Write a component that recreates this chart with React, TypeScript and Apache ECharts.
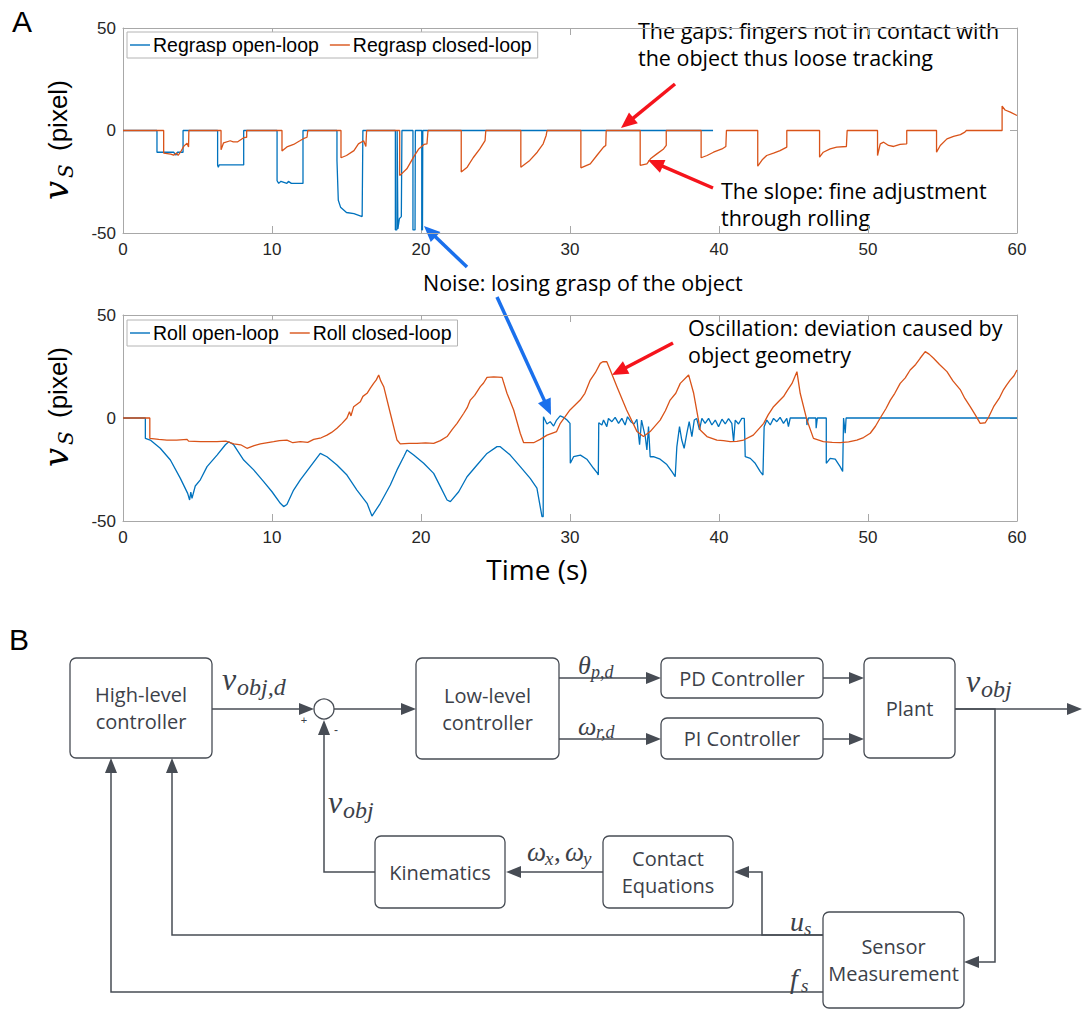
import React, { useEffect, useRef } from 'react';
import * as echarts from 'echarts';

// ---------- data ----------
const timeTicks = [0, 10, 20, 30, 40, 50, 60];
const valueTicks = [-50, 0, 50];
const seriesNames = ['Regrasp open-loop', 'Regrasp closed-loop', 'Roll open-loop', 'Roll closed-loop'];

// [time (s), v_S (pixel)]
const regraspOpen: number[][] = [
  [0, 0], [2.28, 0], [2.28, -10.6], [3.4, -10.6], [3.55, -12], [3.65, -10.6], [4.03, -10.6], [4.03, 0],
  [6.35, 0], [6.35, -17], [6.4, -18], [6.45, -16.8], [8.1, -16.8], [8.1, 0],
  [10.34, 0], [10.34, -24.5], [10.45, -25.8], [10.6, -24.8], [11.0, -25.8], [11.1, -24.8], [11.3, -25.8], [12.08, -25.8], [12.08, 0],
  [14.36, 0], [14.36, -14.6], [14.45, -34], [14.6, -37.4], [15.0, -40], [15.5, -40.6], [16.05, -42], [16.1, 0],
  [18.28, 0], [18.28, -48.5], [18.38, -48.5], [18.4, 0], [18.45, -48], [18.55, -43], [18.68, -42], [18.72, 0],
  [19.46, 0], [19.46, -48.5], [19.6, -48.5], [19.62, 0],
  [20.05, 0], [20.05, -48.5], [20.1, -48.5], [20.12, 0],
  [39.6, 0],
];

const regraspClosed: number[][] = [
  [0, 0], [2.73, 0], [2.73, -11], [3.2, -11.5], [3.4, -12], [3.6, -11], [3.7, -12.2], [3.9, -10], [4.1, -7.5], [4.3, -6.2], [4.4, -8], [4.42, 0],
  [6.58, 0], [6.58, -9.4], [6.75, -6], [7.2, -5], [7.4, -5.5], [7.7, -5.5], [8.0, -4], [8.1, -3.5], [8.3, -3.3], [8.3, 0],
  [10.67, 0], [10.67, -10], [11.0, -8], [11.45, -6.8], [11.9, -4.9], [12.1, -4], [12.35, -3.3], [12.4, 0],
  [14.63, 0], [14.63, -13.3], [15.0, -12.2], [15.5, -9.8], [15.8, -6.5], [16.15, -5], [16.3, -7.8], [16.35, 0],
  [18.57, 0], [18.57, -22], [19.05, -18.7], [19.5, -13], [19.85, -9], [20.2, -6.8], [20.4, -6.5], [20.47, 0],
  [22.7, 0], [22.7, -20.3], [23.1, -17.9], [23.5, -13.3], [23.95, -9], [24.3, -4.9], [24.35, 0],
  [26.7, 0], [26.7, -17.9], [27.3, -14.6], [27.8, -10.6], [28.2, -6.5], [28.4, -2.4], [28.46, 0],
  [30.73, 0], [30.73, -18.2], [31.36, -16.3], [31.8, -12.2], [32.25, -8.1], [32.4, -7.3], [32.43, 0],
  [34.71, 0], [34.71, -17], [35.16, -16.3], [35.4, -13.8], [35.83, -11.4], [36.28, -9], [36.46, -7.3], [36.46, 0],
  [38.8, 0], [38.8, -13.3], [39.2, -12.2], [39.63, -10.6], [40.2, -9], [40.46, -7.8], [40.5, 0],
  [42.6, 0], [42.6, -17.4], [42.9, -14.3], [43.2, -12.2], [43.66, -11], [44.1, -9.8], [44.55, -8.1], [44.55, 0],
  [46.75, 0], [46.75, -13], [47.0, -10.6], [47.46, -9], [47.9, -8.1], [48.55, -7.8], [48.6, 0],
  [50.64, 0], [50.64, -12.2], [50.82, -6.5], [51.05, -5.7], [51.38, -7.3], [51.72, -7.8], [52.15, -6.8], [52.6, -6.5], [52.6, 0],
  [54.6, 0], [54.6, -10.6], [54.85, -7.3], [55.3, -4.1], [55.74, -2.9], [56.2, -2], [56.5, -0.8], [56.6, 0],
  [59.0, 0], [59.0, 11.9], [59.2, 10], [59.55, 9], [60, 7.3],
];

const rollOpen: number[][] = [
  [0, 0], [1.5, 0], [1.5, -9.9], [1.83, -10.7], [2.5, -14.7], [3.18, -20.4], [3.85, -29.3], [4.34, -36.6], [4.47, -39.8], [4.55, -36], [4.63, -39], [4.85, -33],
  [5.19, -30], [5.64, -23.6], [6.31, -18], [6.87, -13], [7.1, -11.5],
  [7.43, -13], [8.1, -20.4], [8.77, -25.2], [9.44, -30.9], [10.0, -35.8], [10.56, -41.4], [10.78, -43], [11.0, -42], [11.45, -35], [11.9, -30],
  [12.57, -23.6], [13.24, -17.2],
  [13.69, -18.8], [14.36, -22.8], [15.03, -27.7], [15.7, -35], [16.38, -41.4], [16.71, -47.6], [17.27, -41.4], [17.94, -32.5], [18.39, -25.2],
  [18.84, -18.8], [19.06, -15.5],
  [19.51, -18], [20.18, -22], [20.85, -26.9], [21.3, -33.3], [21.75, -39.8], [21.97, -40.6], [22.53, -35.8], [23.09, -28.5], [23.76, -22.8],
  [24.43, -17.2], [25.1, -13.9], [25.32, -13.9], [25.99, -18], [26.66, -23.6], [27.33, -29.3], [27.78, -34], [28.0, -43], [28.12, -47.9], [28.2, -47.9],
  [28.22, 0.6], [28.45, -2.9], [28.67, -1.8], [28.9, -3.9], [29.1, -1], [29.34, 1], [29.57, 0.3], [29.8, -1], [30.0, -2.6],
  [30.02, -22], [30.24, -18.8], [30.7, -18], [31.13, -20], [31.58, -24.4], [31.85, -26.9], [31.9, -27.7],
  [31.93, -2.3], [32.14, -3.4], [32.25, -1], [32.47, -4.2], [32.58, -0.2], [32.81, -1.8], [33.03, 0.3], [33.26, -2.6], [33.48, -0.2],
  [33.7, -3.4], [33.86, 0.6], [34.08, -1.8], [34.3, -2.9], [34.49, -0.6],
  [34.67, -13], [34.8, -1], [35.05, -9], [35.16, -15.5], [35.27, -4.2], [35.38, -18.8], [35.6, -18.8], [36.05, -20], [36.5, -22.6], [36.84, -26],
  [37.06, -28.5], [37.17, -14], [37.35, -4.2], [37.5, -10.7], [37.66, -14.7], [37.84, -7.5], [38.0, -1.8], [38.18, -9], [38.34, -1], [38.5, -0.2],
  [38.69, -5.8], [38.85, -0.2], [39.07, -2.6], [39.3, -0.2], [39.52, -3.4], [39.75, -1], [39.97, -4.2], [40.2, -0.6], [40.42, -2.9], [40.64, -0.3],
  [40.86, -2.6], [40.98, -11.5], [41.09, -1], [41.31, -2.9], [41.53, -0.2], [41.7, -0.2],
  [41.76, -18.8], [42.1, -19.6], [42.43, -22], [42.77, -26], [42.95, -27.7], [43.03, -4.2], [43.21, -1], [43.44, -3.4], [43.66, -0.2], [43.88, -1.8],
  [44.1, 0.3], [44.33, -2.6], [44.55, -0.2], [44.66, -4.2], [44.78, 0],
  [45.88, 0], [45.9, -3.4], [46.0, 0], [46.5, 0], [46.52, -5], [46.6, 0],
  [47.2, 0], [47.2, -22], [47.46, -19.6], [47.8, -20], [48.13, -23.6], [48.3, -26], [48.36, 0], [48.47, -7.4], [48.53, 0],
  [60, 0],
];

const rollClosed: number[][] = [
  [0, 0], [1.8, 0], [1.8, -9.9], [2.4, -10.4], [2.95, -10.7], [3.6, -10.7], [4.3, -10.4], [4.4, -11.2], [5.2, -11.5], [6.31, -11.5],
  [6.9, -11.2], [7.43, -12.6], [7.9, -13], [8.32, -14.7], [8.8, -13.4], [9.22, -12.6], [10.11, -11.5], [10.5, -11], [11.0, -10.7],
  [11.4, -12], [11.9, -11.5], [12.4, -11.8], [12.8, -10.4], [13.3, -9.6], [13.69, -8.3], [14.0, -7], [14.36, -5], [14.7, -2.6],
  [15.03, 0], [15.2, 3], [15.3, 1], [15.48, 5.5], [15.93, 7.9], [16.1, 10.5], [16.38, 12], [16.6, 14.5], [16.82, 16.8], [17.0, 18.5],
  [17.16, 20.9], [17.3, 18], [17.5, 15.2], [17.94, 2.3], [18.39, -10.7], [18.61, -12.6], [19.2, -12.3], [19.73, -12.3], [20.3, -12.1],
  [20.85, -12.3], [21.3, -11], [21.75, -9], [22.1, -5.5], [22.42, -2.6], [22.87, 2.3], [23.1, 5], [23.31, 8.7], [23.6, 11], [23.98, 15.2],
  [24.2, 17], [24.43, 19.7], [24.88, 20], [25.44, 19.7], [25.77, 12], [26.22, 3.9], [26.66, -7.4], [26.89, -12], [27.56, -12],
  [28.0, -10.4], [28.46, -8.3], [29.1, -6.6], [29.35, -2.6], [30.0, 3.9], [30.68, 8.7], [31.0, 12], [31.36, 18.4], [31.7, 22],
  [32.03, 26.5], [32.2, 27.3], [32.47, 27.3], [32.7, 23.3], [33.15, 15.2], [33.8, 3.9], [34.5, -6.6], [34.93, -9], [35.38, -6.6],
  [36.05, -1], [36.4, 3.5], [36.72, 8.7], [37.1, 12], [37.4, 16.8], [37.96, 20.9], [38.3, 12], [38.74, -5.8], [39.19, -9],
  [39.86, -10.7], [40.3, -11], [40.75, -11.5], [41.2, -11.3], [41.65, -10.7], [42.3, -8.3], [43.0, -2.6], [43.3, 1.5], [43.66, 5.5],
  [44.0, 8], [44.33, 10.4], [44.6, 13.5], [44.9, 16.8], [45.23, 22.5], [45.45, 12], [45.9, -1], [46.34, -9.9], [47.0, -11.5],
  [47.6, -11.8], [48.13, -12], [48.7, -11.6], [49.25, -10.7], [49.7, -9.5], [50.15, -7.4], [50.5, -4], [50.82, 0], [51.2, 4.5],
  [51.5, 8.7], [51.8, 12], [52.16, 16.8], [52.5, 19.5], [52.83, 23.3], [53.2, 26], [53.5, 29], [53.84, 32.2], [54.1, 31], [54.4, 29],
  [54.8, 26], [55.3, 22.5], [55.7, 18], [56.19, 13.8], [56.5, 9.5], [56.86, 5.5], [57.2, 1.5], [57.53, -2.6], [57.87, -2.3],
  [58.1, 0.5], [58.43, 5.5], [58.8, 9.5], [59.1, 13.8], [59.3, 16], [59.54, 18.4], [59.8, 20.5], [60, 23.3],
];

// ---------- styling ----------
const BLUE = '#0072BD';
const ORANGE = '#D95319';
const AXIS = '#a8a8a8';
const TICKTXT = '#262626';
const DIAG = '#474c54';
const DIAGTXT = '#3c4149';
const HUMAN = '"Open Sans", "Noto Sans", sans-serif';
const HELV = '"Liberation Sans", Arial, sans-serif';
const MATH = '"Liberation Serif", "Times New Roman", serif';

function xAxes(gridIndex: number) {
  const base: any = {
    type: 'value', gridIndex, min: timeTicks[0], max: timeTicks[timeTicks.length - 1], interval: timeTicks[1] - timeTicks[0],
    axisLine: { show: true, onZero: false, lineStyle: { color: AXIS, width: 1 } },
    axisTick: { show: true, inside: true, length: 7, lineStyle: { color: AXIS } },
    splitLine: { show: false },
  };
  return [
    { ...base, position: 'bottom', axisLabel: { show: true, color: TICKTXT, fontSize: 17, fontFamily: HELV, margin: 8 } },
    { ...base, position: 'top', axisLabel: { show: false } },
  ];
}
function yAxes(gridIndex: number) {
  const base: any = {
    type: 'value', gridIndex, min: valueTicks[0], max: valueTicks[valueTicks.length - 1], interval: valueTicks[1] - valueTicks[0],
    axisLine: { show: true, onZero: false, lineStyle: { color: AXIS, width: 1 } },
    axisTick: { show: true, inside: true, length: 7, lineStyle: { color: AXIS } },
    splitLine: { show: false },
  };
  return [
    { ...base, position: 'left', axisLabel: { show: true, color: TICKTXT, fontSize: 17, fontFamily: HELV, margin: 7 } },
    { ...base, position: 'right', axisLabel: { show: false } },
  ];
}

function arrow(x1: number, y1: number, x2: number, y2: number, color: string, lw: number, hl: number, hw: number): any[] {
  const dx = x2 - x1, dy = y2 - y1;
  const L = Math.sqrt(dx * dx + dy * dy);
  const ux = dx / L, uy = dy / L;
  const bx = x2 - ux * hl, by = y2 - uy * hl;
  const nx = -uy, ny = ux;
  return [
    { type: 'line', shape: { x1, y1, x2: bx + ux * 1, y2: by + uy * 1 }, style: { stroke: color, lineWidth: lw }, silent: true },
    { type: 'polygon', shape: { points: [[x2, y2], [bx + nx * hw, by + ny * hw], [bx - nx * hw, by - ny * hw]] }, style: { fill: color }, silent: true },
  ];
}

function polyArrow(points: number[][], color: string): any[] {
  const n = points.length;
  const [x1, y1] = points[n - 2];
  const [x2, y2] = points[n - 1];
  const dx = x2 - x1, dy = y2 - y1;
  const L = Math.sqrt(dx * dx + dy * dy);
  const ux = dx / L, uy = dy / L;
  const hl = 15, hw = 6;
  const bx = x2 - ux * hl, by = y2 - uy * hl;
  const pts = points.slice(0, n - 1).concat([[bx, by]]);
  return [
    { type: 'polyline', shape: { points: pts }, style: { stroke: color, lineWidth: 1.5, fill: null }, silent: true },
    { type: 'polygon', shape: { points: [[x2, y2], [bx - uy * hw, by + ux * hw], [bx + uy * hw, by - ux * hw]] }, style: { fill: color }, silent: true },
  ];
}

function txt(x: number, y: number, text: string, opts: any = {}): any {
  const align = opts.align || 'left';
  const va = opts.verticalAlign || 'middle';
  return {
    type: 'text', x, y, rotation: opts.rotation || 0, silent: true,
    style: {
      text, fill: opts.fill || '#000', fontSize: opts.fontSize || 20, fontFamily: opts.fontFamily || HUMAN,
      fontStyle: opts.fontStyle || 'normal', align, textAlign: align, verticalAlign: va, textVerticalAlign: va,
      lineHeight: opts.lineHeight,
    },
  };
}

function box(x: number, y: number, w: number, h: number, label: string): any[] {
  return [
    { type: 'rect', shape: { x, y, width: w, height: h, r: 6 }, style: { fill: '#fff', stroke: DIAG, lineWidth: 1.3 }, silent: true },
    txt(x + w / 2, y + h / 2, label, { align: 'center', fontSize: 20, fill: DIAGTXT, lineHeight: 27 }),
  ];
}

function math(x: number, yMid: number, main: string, sub: string, mainSize: number, subSize: number, mainW: number, subDy: number): any[] {
  return [
    txt(x, yMid, main, { fontFamily: MATH, fontStyle: 'italic', fontSize: mainSize, fill: DIAGTXT }),
    txt(x + mainW, yMid + subDy, sub, { fontFamily: MATH, fontStyle: 'italic', fontSize: subSize, fill: DIAGTXT }),
  ];
}

function yLabel(yStart: number): any[] {
  const R = Math.PI / 2;
  return [
    txt(56, yStart, 'v', { rotation: R, fontFamily: '"DejaVu Serif", serif', fontStyle: 'italic', fontSize: 34 }),
    txt(66, yStart - 22, 'S', { rotation: R, fontFamily: '"DejaVu Serif", serif', fontStyle: 'italic', fontSize: 20 }),
    txt(58, yStart - 49, '(pixel)', { rotation: R, fontFamily: HELV, fontSize: 26 }),
  ];
}

function buildOption(): any {
  const graphic: any[] = [];
  // panel letters
  graphic.push(txt(22, 21, 'A', { align: 'center', fontFamily: HELV, fontSize: 30 }));
  graphic.push(txt(19, 639, 'B', { align: 'center', fontFamily: HELV, fontSize: 30 }));
  // axis titles
  graphic.push(...yLabel(200), ...yLabel(467));
  graphic.push(txt(537, 569, 'Time (s)', { align: 'center', fontSize: 28 }));

  // annotations
  const RED = '#f5141c';
  const ABLUE = '#1a70ec';
  graphic.push(txt(638, 44, 'The gaps: fingers not in contact with\nthe object thus loose tracking', { fontSize: 21.5, lineHeight: 27 }));
  graphic.push(...arrow(675, 84, 621, 128, RED, 3.5, 16, 7));
  graphic.push(txt(721, 204, 'The slope: fine adjustment\nthrough rolling', { fontSize: 21.5, lineHeight: 27 }));
  graphic.push(...arrow(713, 188, 648, 160, RED, 3.5, 16, 7));
  graphic.push(txt(423, 282, 'Noise: losing grasp of the object', { fontSize: 21.5 }));
  graphic.push(...arrow(467, 267, 424, 226, ABLUE, 3.5, 16, 7));
  graphic.push(...arrow(497, 297, 551, 415, ABLUE, 3.5, 16, 7));
  graphic.push(txt(688, 341, 'Oscillation: deviation caused by\nobject geometry', { fontSize: 21.5, lineHeight: 27 }));
  graphic.push(...arrow(673, 343, 612, 375, RED, 3.5, 16, 7));

  // ---- block diagram ----
  graphic.push(...polyArrow([[212, 709], [314, 709]], DIAG));
  graphic.push(...polyArrow([[334, 709], [416, 709]], DIAG));
  graphic.push(...polyArrow([[559, 678], [661, 678]], DIAG));
  graphic.push(...polyArrow([[559, 739], [661, 739]], DIAG));
  graphic.push(...polyArrow([[823, 678], [864, 678]], DIAG));
  graphic.push(...polyArrow([[823, 739], [864, 739]], DIAG));
  graphic.push(...polyArrow([[955, 709], [1082, 709]], DIAG));
  graphic.push(...polyArrow([[955, 709], [995, 709], [995, 962], [964, 962]], DIAG));
  graphic.push(...polyArrow([[823, 935], [762, 935], [762, 872], [734, 872]], DIAG));
  graphic.push(...polyArrow([[603, 872], [506, 872]], DIAG));
  graphic.push(...polyArrow([[375, 872], [324, 872], [324, 720]], DIAG));
  graphic.push(...polyArrow([[823, 935], [172, 935], [172, 758]], DIAG));
  graphic.push(...polyArrow([[823, 992], [111, 992], [111, 758]], DIAG));
  graphic.push({ type: 'circle', shape: { cx: 324, cy: 709, r: 10 }, style: { fill: '#fff', stroke: DIAG, lineWidth: 1.3 }, silent: true });
  graphic.push(txt(304, 720, '+', { align: 'center', fontSize: 11, fontFamily: HELV, fill: DIAGTXT }));
  graphic.push(txt(336, 730, '-', { align: 'center', fontSize: 12, fontFamily: HELV, fill: DIAGTXT }));
  graphic.push(...box(70, 658, 142, 100, 'High-level\ncontroller'));
  graphic.push(...box(416, 658, 143, 101, 'Low-level\ncontroller'));
  graphic.push(...box(661, 658, 162, 40, 'PD Controller'));
  graphic.push(...box(661, 718, 162, 41, 'PI Controller'));
  graphic.push(...box(864, 658, 91, 100, 'Plant'));
  graphic.push(...box(375, 836, 130, 72, 'Kinematics'));
  graphic.push(...box(603, 836, 130, 72, 'Contact\nEquations'));
  graphic.push(...box(823, 912, 141, 96, 'Sensor\nMeasurement'));
  graphic.push(...math(222, 679, 'v', 'obj,d', 32, 24, 15, 8));
  graphic.push(...math(578, 665, 'θ', 'p,d', 26, 18, 13, 7));
  graphic.push(...math(578, 726, 'ω', 'r,d', 26, 18, 18, 6));
  graphic.push(...math(966, 681, 'v', 'obj', 32, 24, 15, 8));
  graphic.push(...math(328, 802, 'v', 'obj', 32, 24, 15, 8));
  graphic.push(...math(527, 852, 'ω', 'x', 27, 19, 18, 6));
  graphic.push(txt(554, 852, ',', { fontFamily: MATH, fontSize: 27, fill: DIAGTXT }));
  graphic.push(...math(565, 852, 'ω', 'y', 27, 19, 18, 6));
  graphic.push(...math(790, 921, 'u', 's', 28, 19, 14, 7));
  graphic.push(...math(790, 978, 'f', 's', 28, 19, 11, 7));

  const legendBase: any = {
    orient: 'horizontal', backgroundColor: '#fff', borderColor: '#b4b4b4', borderWidth: 1, borderRadius: 0,
    padding: [3, 6, 3, 3], itemWidth: 20, itemHeight: 1.4, itemGap: 11, icon: 'rect',
    textStyle: { fontSize: 19.5, color: '#000', fontFamily: HELV, padding: [0, 0, 0, -2] },
  };

  return {
    animation: false,
    backgroundColor: '#fff',
    grid: [
      { left: 123, top: 28, width: 894, height: 205 },
      { left: 123, top: 315, width: 894, height: 206 },
    ],
    xAxis: [...xAxes(0), ...xAxes(1)],
    yAxis: [...yAxes(0), ...yAxes(1)],
    legend: [
      { ...legendBase, left: 127, top: 32, data: [seriesNames[0], seriesNames[1]] },
      { ...legendBase, left: 127, top: 320, data: [seriesNames[2], seriesNames[3]] },
    ],
    series: [
      { name: seriesNames[0], type: 'line', xAxisIndex: 0, yAxisIndex: 0, data: regraspOpen, symbol: 'none', color: BLUE, lineStyle: { width: 1.3, color: BLUE } },
      { name: seriesNames[1], type: 'line', xAxisIndex: 0, yAxisIndex: 0, data: regraspClosed, symbol: 'none', color: ORANGE, lineStyle: { width: 1.3, color: ORANGE } },
      { name: seriesNames[2], type: 'line', xAxisIndex: 2, yAxisIndex: 2, data: rollOpen, symbol: 'none', color: BLUE, lineStyle: { width: 1.3, color: BLUE } },
      { name: seriesNames[3], type: 'line', xAxisIndex: 2, yAxisIndex: 2, data: rollClosed, symbol: 'none', color: ORANGE, lineStyle: { width: 1.3, color: ORANGE } },
    ],
    graphic: { elements: graphic },
  };
}

export default function App() {
  const ref = useRef<HTMLDivElement>(null);
  useEffect(() => {
    document.body.style.margin = '0';
    const chart = echarts.init(ref.current as HTMLDivElement, null, { renderer: 'svg' });
    chart.setOption(buildOption());
    return () => chart.dispose();
  }, []);
  return <div ref={ref} style={{ width: 1084, height: 1011, background: '#fff' }} />;
}
